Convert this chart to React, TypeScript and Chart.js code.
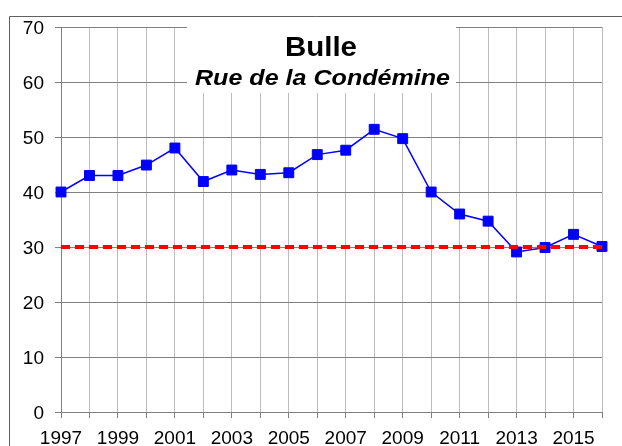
import React, { useEffect, useRef } from 'react';
import { Chart, registerables } from 'chart.js';

Chart.register(...registerables);

const years = ['1997', '1998', '1999', '2000', '2001', '2002', '2003', '2004', '2005', '2006', '2007', '2008', '2009', '2010', '2011', '2012', '2013', '2014', '2015', '2016'];
const values = [40, 43, 43, 44.9, 48, 41.9, 44, 43.2, 43.5, 46.8, 47.6, 51.4, 49.7, 40, 36, 34.7, 29.1, 29.9, 32.3, 30.1];
const limitValues = [30, 30, 30, 30, 30, 30, 30, 30, 30, 30, 30, 30, 30, 30, 30, 30, 30, 30, 30, 30];
const yMin = 0;
const yMax = 70;
const yStep = 10;
const titleText = 'Bulle';
const subtitleText = 'Rue de la Condémine';

const FONT = '"Liberation Sans", Arial, Helvetica, sans-serif';

const framePlugin = {
  id: 'frame',
  beforeDraw(chart: any) {
    const ctx = chart.ctx;
    ctx.save();
    ctx.fillStyle = '#ffffff';
    ctx.fillRect(0, 0, chart.width, chart.height);
    ctx.strokeStyle = '#606060';
    ctx.lineWidth = 1;
    ctx.beginPath();
    ctx.moveTo(9.5, chart.height + 5);
    ctx.lineTo(9.5, 16.5);
    ctx.lineTo(chart.width + 5, 16.5);
    ctx.stroke();
    ctx.restore();
  },
};

function drawStretched(ctx: any, text: string, cx: number, baseline: number, targetWidth: number) {
  const w = ctx.measureText(text).width;
  const sx = targetWidth / w;
  ctx.save();
  ctx.translate(cx, baseline);
  ctx.scale(sx, 1);
  ctx.textAlign = 'center';
  ctx.fillText(text, 0, 0);
  ctx.restore();
}

const titlePlugin = {
  id: 'titleBox',
  beforeDatasetsDraw(chart: any) {
    const ctx = chart.ctx;
    ctx.save();
    ctx.fillStyle = '#ffffff';
    ctx.fillRect(187, 26, 269, 67);
    ctx.restore();
  },
  afterDatasetsDraw(chart: any) {
    const ctx = chart.ctx;
    ctx.save();
    ctx.fillStyle = '#000000';
    ctx.textBaseline = 'alphabetic';
    ctx.font = 'bold 28px ' + FONT;
    drawStretched(ctx, titleText, 321, 56, 72);
    ctx.font = 'italic bold 22px ' + FONT;
    drawStretched(ctx, subtitleText, 322.5, 85, 255);
    ctx.restore();
  },
};

export default function App() {
  const ref = useRef<HTMLCanvasElement | null>(null);

  useEffect(() => {
    if (!ref.current) return;
    const chart = new Chart(ref.current, {
      type: 'line',
      data: {
        labels: years,
        datasets: [
          {
            label: 'Limite',
            data: limitValues,
            borderColor: '#ff0000',
            borderWidth: 4,
            borderDash: [9, 5],
            pointRadius: 0,
            fill: false,
            tension: 0,
            order: 0,
          },
          {
            label: 'Bulle',
            data: values,
            borderColor: '#0000ff',
            borderWidth: 1.5,
            pointStyle: 'rect',
            pointRadius: 7,
            pointBackgroundColor: '#0000ff',
            pointBorderColor: '#0000ff',
            pointBorderWidth: 1,
            fill: false,
            tension: 0,
            order: 1,
          },
        ],
      },
      options: {
        animation: false,
        responsive: true,
        maintainAspectRatio: false,
        layout: { padding: { left: 0, top: 27, right: 20, bottom: 0 } },
        plugins: {
          legend: { display: false },
          tooltip: { enabled: false },
          title: { display: false },
        },
        scales: {
          x: {
            type: 'category',
            offset: false,
            grid: {
              color: '#bcbcbc',
              lineWidth: 1,
              drawTicks: true,
              tickLength: 6,
              tickColor: '#808080',
            },
            border: { color: '#808080', width: 1 },
            ticks: {
              autoSkip: false,
              maxRotation: 0,
              minRotation: 0,
              color: '#000000',
              padding: 9,
              font: { family: FONT, size: 19 },
              callback: (_v: any, i: number) => (i % 2 === 0 ? years[i] : ''),
            },
            afterFit: (scale: any) => {
              scale.height = 34;
            },
          },
          y: {
            min: yMin,
            max: yMax,
            grid: {
              color: '#808080',
              lineWidth: 1,
              tickLength: 6,
              tickColor: '#808080',
            },
            border: { color: '#808080', width: 1 },
            ticks: {
              stepSize: yStep,
              color: '#000000',
              padding: 11,
              labelOffset: 2,
              font: { family: FONT, size: 19 },
            },
            afterFit: (scale: any) => {
              scale.width = 61;
            },
          },
        },
      },
      plugins: [framePlugin, titlePlugin],
    });
    return () => chart.destroy();
  }, []);

  return (
    <div style={{ position: 'absolute', left: 0, top: 0, width: 622, height: 446, background: '#fff' }}>
      <canvas ref={ref} />
    </div>
  );
}
